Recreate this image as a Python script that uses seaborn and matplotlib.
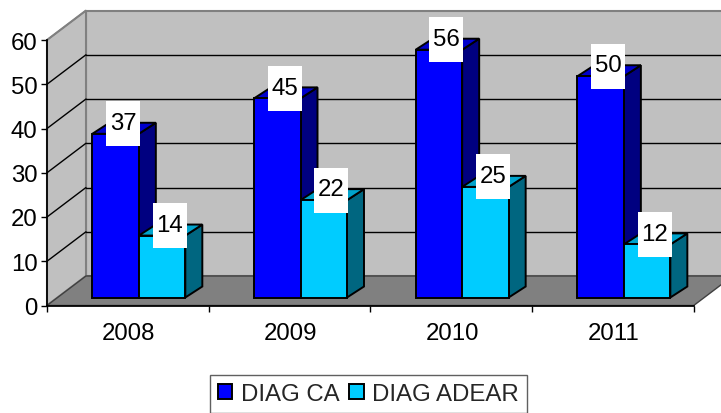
import pandas as pd
import matplotlib
matplotlib.use('Agg')
import matplotlib.pyplot as plt
from matplotlib.patches import Polygon, Rectangle
import seaborn as sns

# Datos
years = ['2008', '2009', '2010', '2011']
diag_ca = [37, 45, 56, 50]
diag_adear = [14, 22, 25, 12]
y_ticks = [0, 10, 20, 30, 40, 50, 60]

data = pd.DataFrame({
    'year': years * 2,
    'value': diag_ca + diag_adear,
    'serie': ['DIAG CA'] * 4 + ['DIAG ADEAR'] * 4,
})

sns.set_theme(style='white')
plt.rcParams['font.family'] = ['Liberation Sans', 'DejaVu Sans']
FS = 17.3

W, H = 721, 414
fig = plt.figure(figsize=(W / 100, H / 100), dpi=100)
ax = fig.add_axes([47 / W, 1 - 306.5 / H, 646.7 / W, 265.5 / H])

sns.barplot(data=data, x='year', y='value', hue='serie', ax=ax, width=0.575, gap=0,
            palette=['#0000FF', '#00CCFF'], saturation=1, edgecolor='black', linewidth=1.4)
ax.set_xlim(-0.5, 3.5)
ax.set_ylim(0, 60)

# pixeles -> unidades de datos
px = 4 / 646.7
py = 60 / 265.5
wall_dx, wall_dy = 39 * px, 29.5 * py
bar_dx, bar_dy = 11 * px, 8 * py
depth_x, depth_y = 17 * px, 11 * py
x0, x1 = -0.5, 3.5


def poly(points, **kw):
    ax.add_patch(Polygon(points, closed=True, clip_on=False, **kw))


# Paredes y piso
poly([(x0 + wall_dx, wall_dy), (x1 + wall_dx, wall_dy), (x1 + wall_dx, 60 + wall_dy), (x0 + wall_dx, 60 + wall_dy)],
     facecolor='#C0C0C0', edgecolor='#808080', linewidth=1.5, zorder=0.1)
poly([(x0, 0), (x0 + wall_dx, wall_dy), (x0 + wall_dx, 60 + wall_dy), (x0, 60)],
     facecolor='#C0C0C0', edgecolor='#808080', linewidth=1.5, zorder=0.2)
poly([(x0, 0), (x1, 0), (x1 + wall_dx, wall_dy), (x0 + wall_dx, wall_dy)],
     facecolor='#808080', edgecolor='#404040', linewidth=1, zorder=0.3)

# Lineas de division
for t in y_ticks[1:]:
    if t < 60:
        ax.plot([x0 + wall_dx, x1 + wall_dx], [t + wall_dy] * 2, color='black', lw=1, zorder=0.4, clip_on=False)
    ax.plot([x0, x0 + wall_dx], [t, t + wall_dy], color='#808080' if t == 60 else 'black',
            lw=1, zorder=0.4, clip_on=False)

# Barras con cara lateral y superior
bars = sorted([p for c in ax.containers for p in c], key=lambda b: b.get_x())
tops = {'#0000FF': ('#0000CC', '#000080'), '#00CCFF': ('#00A3CC', '#006680')}
for i, b in enumerate(bars):
    b.set_x(b.get_x() + bar_dx)
    b.set_y(bar_dy)
    b.set_zorder(3 + i)
    a, c = b.get_x(), b.get_x() + b.get_width()
    low, high = bar_dy, bar_dy + b.get_height()
    col = matplotlib.colors.to_hex(b.get_facecolor()).upper()
    poly([(c, low), (c + depth_x, low + depth_y), (c + depth_x, high + depth_y), (c, high)],
         facecolor=tops[col][1], edgecolor='black', linewidth=1.4, zorder=2.8 + i)
    poly([(a, high), (c, high), (c + depth_x, high + depth_y), (a + depth_x, high + depth_y)],
         facecolor=tops[col][0], edgecolor='black', linewidth=1.4, zorder=2.9 + i)

# Etiquetas de valores
for b in bars:
    cx = b.get_x() + b.get_width() / 2 + 7.5 * px
    cy = bar_dy + b.get_height() + 10 * py
    bw, bh = 34 * px, 45 * py
    ax.add_patch(Rectangle((cx - bw / 2, cy - bh / 2), bw, bh, facecolor='white', edgecolor='none',
                           zorder=20, clip_on=False))
    ax.text(cx, cy + 0.8 * py, str(int(b.get_height())), ha='center', va='center', fontsize=FS, color='black',
            zorder=21, clip_on=False)

# Ejes
ax.set_xlabel('')
ax.set_ylabel('')
ax.patch.set_visible(False)
ax.set_yticks(y_ticks)
ax.set_xticks([-0.5, 0.5, 1.5, 2.5, 3.5], minor=False)
ax.set_xticklabels([''] * 5)
for i, y in enumerate(years):
    ax.text(i + 1 * px, -27.5 * py, y, ha='center', va='center', fontsize=FS, color='black', clip_on=False)
ax.tick_params(axis='both', length=4.3, width=1, color='black', labelsize=FS, labelcolor='black', pad=2.4,
               left=True, bottom=True)
sns.despine(ax=ax)
ax.spines['left'].set_color('black')
ax.spines['bottom'].set_color('black')
ax.spines['left'].set_zorder(1)
ax.spines['bottom'].set_zorder(1)

# Leyenda
handles, labels = ax.get_legend_handles_labels()
ax.legend(handles, labels, ncol=2, loc='center', bbox_to_anchor=(368.5 / W, 1 - 395 / H),
          bbox_transform=fig.transFigure, fontsize=FS, fancybox=False, framealpha=1, edgecolor='#606060',
          handlelength=0.6, handleheight=0.6, handletextpad=0.36, columnspacing=0.4,
          borderpad=0.32, borderaxespad=0, title=None)

fig.savefig('out.png', dpi=100)
